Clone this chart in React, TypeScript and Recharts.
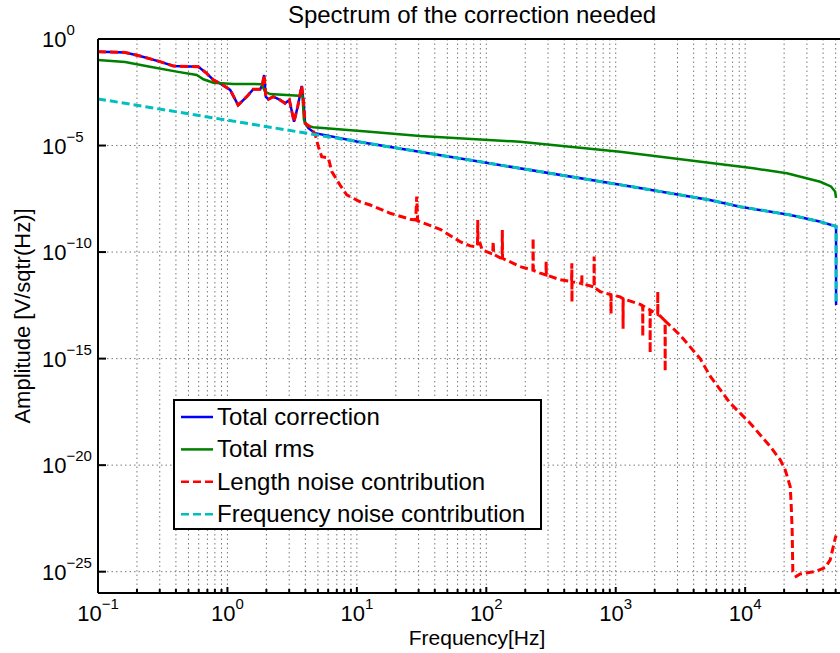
import { CartesianGrid, Label, Legend, Line, LineChart, XAxis, YAxis } from "recharts"

// [frequency Hz, amplitude]
const totalCorrection: [number, number][] = [
  [0.1, 0.25], [0.124, 0.245], [0.162, 0.234], [0.211, 0.16], [0.301, 0.087], [0.382, 0.054],
  [0.596, 0.05], [0.692, 0.0245], [0.778, 0.012], [0.877, 0.0083], [1.05, 0.0041], [1.21, 7.9e-4],
  [1.41, 1.96e-3], [1.585, 4.4e-3], [1.79, 4.4e-3], [1.86, 6.9e-3], [1.92, 0.0204], [1.98, 1.96e-3],
  [2.07, 1.48e-3], [2.26, 1.96e-3], [2.55, 1.38e-3], [2.79, 9.6e-4], [3.01, 1.38e-3], [3.27, 1.32e-4],
  [3.49, 6.6e-4], [3.75, 6.3e-3], [3.86, 1.38e-3], [3.98, 1.12e-4], [4.22, 6.5e-5], [4.75, 3.8e-5],
  [10, 1.55e-5], [100, 1.55e-6], [1000, 1.55e-7], [1530, 1.02e-7], [5320, 2.8e-8], [9140, 1.35e-8],
  [22300, 5.5e-9], [37600, 2.7e-9], [50400, 1.6e-9], [50400, 3.3e-13],
]

const totalRms: [number, number][] = [
  [0.1, 0.1035], [0.162, 0.083], [0.252, 0.05], [0.405, 0.0295], [0.579, 0.0204], [0.652, 0.0129],
  [0.778, 0.0089], [1.11, 0.0078], [1.84, 0.0076], [1.95, 0.0034], [2.13, 0.0026], [3.8, 0.00214],
  [3.9, 1.6e-4], [4.1, 8.3e-5], [4.61, 7.2e-5], [11.9, 4.5e-5], [30.8, 2.8e-5], [182, 1.5e-5],
  [1080, 5.1e-6], [3540, 2.1e-6], [11600, 8.5e-7], [21000, 5.0e-7], [38000, 2.0e-7], [46000, 1.2e-7],
  [49500, 7.0e-8], [50400, 3.5e-8],
]

const lengthNoise: [number, number][] = [
  [0.1, 0.25], [0.124, 0.245], [0.162, 0.234], [0.211, 0.16], [0.301, 0.087], [0.382, 0.054],
  [0.596, 0.05], [0.692, 0.0245], [0.778, 0.012], [0.877, 0.0083], [1.05, 0.0041], [1.21, 7.9e-4],
  [1.41, 1.96e-3], [1.585, 4.4e-3], [1.79, 4.4e-3], [1.86, 6.9e-3], [1.92, 0.0204], [1.98, 1.96e-3],
  [2.07, 1.48e-3], [2.26, 1.96e-3], [2.55, 1.38e-3], [2.79, 9.6e-4], [3.01, 1.38e-3], [3.27, 1.32e-4],
  [3.49, 6.6e-4], [3.75, 6.3e-3], [3.86, 1.38e-3], [3.98, 1.12e-4], [4.34, 7.8e-5], [4.75, 3.5e-5],
  [5.04, 8.9e-6], [5.35, 3.0e-6], [6.03, 2.6e-6], [6.4, 6.0e-7], [7.41, 1.41e-7], [8.35, 4.8e-8],
  [10.6, 2.3e-8], [12.7, 1.62e-8], [18.1, 6.6e-9], [25.8, 3.5e-9], [28.5, 3.2e-9], [29.0, 4.0e-8],
  [29.5, 2.9e-9], [44, 1.17e-9], [62.7, 3.1e-10], [75, 1.95e-10], [81.9, 1.82e-10], [85.5, 2.2e-10],
  [85.9, 3.2e-9], [86.3, 2.5e-10], [89.5, 2.6e-10], [92.9, 1.26e-10], [112, 8e-11], [113, 3.2e-10],
  [114, 7.8e-11], [128, 5.4e-11], [132.5, 5.2e-11], [133, 1.1e-9], [133.5, 5.1e-11], [182, 2.1e-11],
  [229, 1.4e-11], [230, 4.5e-10], [231, 1.4e-11], [261, 1.02e-11], [289, 8.5e-12], [290, 3.5e-11],
  [291, 8.4e-12], [372, 5.0e-12], [456, 4.2e-12], [458, 3.0e-11], [459, 4.5e-13], [460, 4.1e-12],
  [531, 3.5e-12], [546, 3.3e-12], [547, 8.5e-12], [548, 3.3e-12], [679, 2.3e-12], [681, 6.2e-11],
  [683, 2.2e-12], [757, 1.4e-12], [918, 1.0e-12], [920, 1.26e-13], [922, 1.0e-12], [1081, 7.9e-13],
  [1138, 6.5e-13], [1140, 2.5e-14], [1142, 6.4e-13], [1545, 3.5e-13], [1615, 3.0e-13], [1618, 1.1e-14],
  [1621, 3.0e-13], [1842, 1.9e-13], [1845, 1.8e-15], [1848, 1.9e-13], [2110, 1.2e-13], [2113, 1.41e-12],
  [2116, 1.2e-13], [2203, 1.0e-13], [2405, 5.9e-14], [2410, 2.5e-16], [2415, 5.8e-14], [3148, 1.26e-14],
  [4490, 1.0e-15], [5370, 1.5e-16], [7660, 8.1e-18], [10930, 9.3e-19], [15600, 7.6e-20], [18660, 1.78e-20],
  [20380, 6.0e-21], [22280, 1.0e-21], [22650, 1.66e-22], [23070, 9.3e-24], [23350, 1.02e-25],
  [24770, 6.0e-26], [26600, 7.8e-26], [34750, 1.02e-25], [41500, 1.55e-25], [45400, 3.6e-25],
  [49700, 3.8e-24], [50400, 5.0e-24],
]

const frequencyNoise: [number, number][] = [
  [0.1, 1.55e-3], [1, 1.55e-4], [10, 1.55e-5], [100, 1.55e-6], [1000, 1.55e-7], [1530, 1.02e-7],
  [5320, 2.8e-8], [9140, 1.35e-8], [22300, 5.5e-9], [37600, 2.7e-9], [50400, 1.6e-9], [50400, 3.3e-13],
]

const xDecades = [0.1, 1, 10, 100, 1000, 10000]
const minorSteps = [1, 2, 3, 4, 5, 6, 7, 8, 9]
const yTicks = [1e-25, 1e-20, 1e-15, 1e-10, 1e-5, 1]
const xDomain = [0.1, 56000]
const yDomain = [1e-26, 1]

const xTicks = xDecades
  .flatMap((d) => minorSteps.map((m) => +(d * m).toPrecision(3)))
  .filter((v) => v <= xDomain[1])

const series = [
  { name: "Total correction", points: totalCorrection, color: "#0000ff", dash: undefined, width: 2.5 },
  { name: "Total rms", points: totalRms, color: "#008000", dash: undefined, width: 2.5 },
  { name: "Length noise contribution", points: lengthNoise, color: "#ff0000", dash: "8 4", width: 3 },
  { name: "Frequency noise contribution", points: frequencyNoise, color: "#00bfbf", dash: "8 4", width: 3 },
]

const FONT = "'Liberation Sans', Arial, Helvetica, sans-serif"

const expText = (v: number) => {
  const n = Math.round(Math.log10(v))
  return n < 0 ? "\u2212" + -n : String(n)
}

function XTick(props: any) {
  const { x, y, payload, top } = props
  const e = Math.log10(payload.value)
  const major = Math.abs(e - Math.round(e)) < 1e-6
  const len = major ? 6 : 4
  const dir = top ? 1 : -1
  return (
    <g>
      <line x1={x} y1={y} x2={x} y2={y + dir * len} stroke="#000" strokeWidth={2} />
      {!top && major && (
        <text x={x} y={y + 28} textAnchor="middle" fontFamily={FONT} fontSize={22} fill="#000">
          10
          <tspan dy={-12} fontSize={15}>
            {expText(payload.value)}
          </tspan>
        </text>
      )}
    </g>
  )
}

function YTick(props: any) {
  const { x, y, payload } = props
  return (
    <g>
      <line x1={x} y1={y} x2={x + 8} y2={y} stroke="#000" strokeWidth={2} />
      <text x={x - 56} y={y + 8} textAnchor="start" fontFamily={FONT} fontSize={22} fill="#000">
        10
        <tspan dy={-12} fontSize={15}>
          {expText(payload.value)}
        </tspan>
      </text>
    </g>
  )
}

function LegendBox() {
  return (
    <div
      style={{
        width: 369,
        height: 131,
        border: "2px solid #000",
        boxSizing: "border-box",
        background: "#fff",
      }}
    >
      <svg width={365} height={127} style={{ display: "block" }}>
        {series.map((s, i) => {
          const cy = 16 + i * 32.4
          return (
            <g key={s.name}>
              <line x1={6} x2={38} y1={cy} y2={cy} stroke={s.color} strokeWidth={2.5} strokeDasharray={s.dash} />
              <text x={42} y={cy + 8} fontFamily={FONT} fontSize={24} fill="#000">
                {s.name}
              </text>
            </g>
          )
        })}
      </svg>
    </div>
  )
}

export default function App() {
  return (
    <div
      style={{
        position: "fixed",
        left: 0,
        top: 0,
        width: 840,
        height: 653,
        overflow: "hidden",
        background: "#fff",
      }}
    >
      <LineChart width={842} height={653} margin={{ top: 9, right: 0, bottom: 0, left: 0 }}>
        <CartesianGrid xAxisId="f" stroke="#7a7a7a" strokeDasharray="1.5 3" />
        <XAxis
          xAxisId="top"
          orientation="top"
          type="number"
          scale="log"
          domain={xDomain}
          ticks={xTicks}
          allowDataOverflow
          interval={0}
          height={30}
          tickSize={0}
          tickMargin={0}
          tickLine={false}
          axisLine={{ stroke: "#000", strokeWidth: 2 }}
          tick={<XTick top />}
        >
          <Label
            content={({ viewBox }: any) => (
              <text
                x={viewBox.x + viewBox.width / 2 + 2}
                y={viewBox.y + 14}
                textAnchor="middle"
                fontFamily={FONT}
                fontSize={24}
                fill="#000"
              >
                Spectrum of the correction needed
              </text>
            )}
          />
        </XAxis>
        <XAxis
          xAxisId="f"
          dataKey="f"
          type="number"
          scale="log"
          domain={xDomain}
          ticks={xTicks}
          allowDataOverflow
          interval={0}
          height={60}
          tickSize={0}
          tickMargin={0}
          tickLine={false}
          axisLine={{ stroke: "#000", strokeWidth: 2 }}
          tick={<XTick />}
        >
          <Label
            content={({ viewBox }: any) => (
              <text
                x={viewBox.x + viewBox.width / 2 + 7}
                y={viewBox.y + 52}
                textAnchor="middle"
                fontFamily={FONT}
                fontSize={21}
                fill="#000"
              >
                Frequency[Hz]
              </text>
            )}
          />
        </XAxis>
        <YAxis
          type="number"
          scale="log"
          domain={yDomain}
          ticks={yTicks}
          allowDataOverflow
          interval={0}
          width={98}
          tickSize={0}
          tickMargin={0}
          tickLine={false}
          axisLine={{ stroke: "#000", strokeWidth: 2 }}
          tick={<YTick />}
        >
          <Label
            content={({ viewBox }: any) => {
              const cx = viewBox.x + 30
              const cy = viewBox.y + viewBox.height / 2
              return (
                <text
                  x={cx}
                  y={cy}
                  transform={`rotate(-90, ${cx}, ${cy})`}
                  textAnchor="middle"
                  fontFamily={FONT}
                  fontSize={22}
                  fill="#000"
                >
                  Amplitude [V/sqtr(Hz)]
                </text>
              )
            }}
          />
        </YAxis>
        <Legend
          layout="vertical"
          align="center"
          verticalAlign="middle"
          wrapperStyle={{ left: 173, top: 399, width: 369, height: 131 }}
          content={() => <LegendBox />}
        />
        {series.map((s) => (
          <Line
            key={s.name}
            xAxisId="f"
            data={s.points.map(([f, a]) => ({ f, a }))}
            dataKey="a"
            name={s.name}
            type="linear"
            stroke={s.color}
            strokeWidth={s.width}
            strokeDasharray={s.dash}
            dot={false}
            activeDot={false}
            isAnimationActive={false}
          />
        ))}
      </LineChart>
    </div>
  )
}
